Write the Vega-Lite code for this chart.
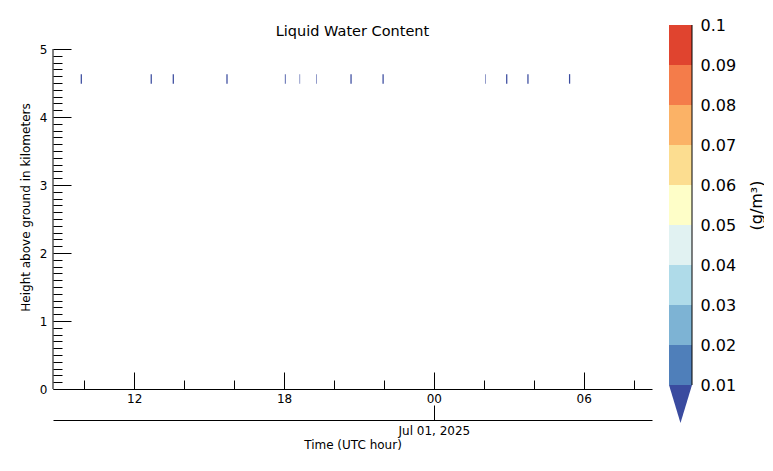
{
  "$schema": "https://vega.github.io/schema/vega-lite/v6.json",
  "padding": {"left": 19, "top": 17, "right": 0, "bottom": 0},
  "background": "white",
  "config": {
    "font": "DejaVu Sans",
    "view": {"stroke": null},
    "axis": {
      "grid": false,
      "domainColor": "black",
      "tickColor": "black",
      "labelColor": "black",
      "titleColor": "black",
      "labelFontSize": 12,
      "titleFontSize": 12,
      "titleFontWeight": "normal",
      "labelFlush": false,
      "labelOverlap": false
    },
    "title": {"color": "black", "fontWeight": "normal"}
  },
  "datasets": {
    "lwc": [
      {"start": "2025-06-30T09:51:30Z", "end": "2025-06-30T09:54:30Z", "base": 4.49, "top": 4.63, "lwc": 0.005},
      {"start": "2025-06-30T12:39:30Z", "end": "2025-06-30T12:42:30Z", "base": 4.49, "top": 4.63, "lwc": 0.005},
      {"start": "2025-06-30T13:32:30Z", "end": "2025-06-30T13:35:30Z", "base": 4.49, "top": 4.63, "lwc": 0.005},
      {"start": "2025-06-30T15:41:30Z", "end": "2025-06-30T15:44:30Z", "base": 4.49, "top": 4.63, "lwc": 0.005},
      {"start": "2025-06-30T18:02:00Z", "end": "2025-06-30T18:04:00Z", "base": 4.49, "top": 4.63, "lwc": 0.005},
      {"start": "2025-06-30T18:37:20Z", "end": "2025-06-30T18:38:40Z", "base": 4.49, "top": 4.63, "lwc": 0.005},
      {"start": "2025-06-30T19:17:20Z", "end": "2025-06-30T19:18:40Z", "base": 4.49, "top": 4.63, "lwc": 0.005},
      {"start": "2025-06-30T20:39:30Z", "end": "2025-06-30T20:42:30Z", "base": 4.49, "top": 4.63, "lwc": 0.005},
      {"start": "2025-06-30T21:56:30Z", "end": "2025-06-30T21:59:30Z", "base": 4.49, "top": 4.63, "lwc": 0.005},
      {"start": "2025-07-01T02:03:20Z", "end": "2025-07-01T02:04:40Z", "base": 4.49, "top": 4.63, "lwc": 0.005},
      {"start": "2025-07-01T02:53:30Z", "end": "2025-07-01T02:56:30Z", "base": 4.49, "top": 4.63, "lwc": 0.005},
      {"start": "2025-07-01T03:44:30Z", "end": "2025-07-01T03:47:30Z", "base": 4.49, "top": 4.63, "lwc": 0.005},
      {"start": "2025-07-01T05:24:30Z", "end": "2025-07-01T05:27:30Z", "base": 4.49, "top": 4.63, "lwc": 0.005}
    ],
    "bands": [
      {"lo": 0.01, "hi": 0.02},
      {"lo": 0.02, "hi": 0.03},
      {"lo": 0.03, "hi": 0.04},
      {"lo": 0.04, "hi": 0.05},
      {"lo": 0.05, "hi": 0.06},
      {"lo": 0.06, "hi": 0.07},
      {"lo": 0.07, "hi": 0.08},
      {"lo": 0.08, "hi": 0.09},
      {"lo": 0.09, "hi": 0.1}
    ],
    "under": [{"lo": 0.005}]
  },
  "spacing": 17,
  "resolve": {"scale": {"x": "independent", "y": "independent", "color": "independent"}},
  "hconcat": [
    {
      "width": 599,
      "height": 364,
      "title": {"text": "Liquid Water Content", "fontSize": 14.5, "offset": -14},
      "data": {"name": "lwc"},
      "resolve": {"axis": {"x": "independent", "y": "independent"}},
      "layer": [
        {
          "mark": {"type": "rect"},
          "encoding": {
            "x": {
              "field": "start",
              "type": "temporal",
              "scale": {
                "type": "utc",
                "domain": [
                  {"year": 2025, "month": 6, "date": 30, "hours": 8, "minutes": 45, "utc": true},
                  {"year": 2025, "month": 7, "date": 1, "hours": 8, "minutes": 44, "utc": true}
                ]
              },
              "axis": {
                "orient": "bottom",
                "title": null,
                "values": [
                  {"year": 2025, "month": 6, "date": 30, "hours": 12, "utc": true},
                  {"year": 2025, "month": 6, "date": 30, "hours": 18, "utc": true},
                  {"year": 2025, "month": 7, "date": 1, "hours": 0, "utc": true},
                  {"year": 2025, "month": 7, "date": 1, "hours": 6, "utc": true}
                ],
                "tickSize": -17,
                "format": "%H",
                "labelPadding": 21
              }
            },
            "x2": {"field": "end"},
            "y": {
              "field": "base",
              "type": "quantitative",
              "scale": {"domain": [0, 5.353], "nice": false},
              "axis": {
                "orient": "left",
                "domain": false,
                "title": "Height above ground in kilometers",
                "titlePadding": 7,
                "values": [0, 1, 2, 3, 4, 5],
                "format": "d",
                "tickSize": -18,
                "labelPadding": 24
              }
            },
            "y2": {"field": "top"},
            "color": {
              "field": "lwc",
              "type": "quantitative",
              "legend": null,
              "scale": {
                "type": "threshold",
                "domain": [0.01, 0.02, 0.03, 0.04, 0.05, 0.06, 0.07, 0.08, 0.09, 0.1],
                "range": ["#3a4b9f", "#4f7fba", "#7db3d4", "#afdbe9", "#e1f2f2", "#fefec8", "#fcdd90", "#fbb266", "#f47c4a", "#e0442f", "#a50026"]
              }
            }
          }
        },
        {
          "mark": {"type": "rect", "opacity": 0},
          "encoding": {
            "x": {
              "field": "start",
              "type": "temporal",
              "axis": {
                "orient": "bottom",
                "domain": false,
                "labels": false,
                "title": null,
                "values": [
                  {"year": 2025, "month": 6, "date": 30, "hours": 10, "utc": true},
                  {"year": 2025, "month": 6, "date": 30, "hours": 14, "utc": true},
                  {"year": 2025, "month": 6, "date": 30, "hours": 16, "utc": true},
                  {"year": 2025, "month": 6, "date": 30, "hours": 20, "utc": true},
                  {"year": 2025, "month": 6, "date": 30, "hours": 22, "utc": true},
                  {"year": 2025, "month": 7, "date": 1, "hours": 2, "utc": true},
                  {"year": 2025, "month": 7, "date": 1, "hours": 4, "utc": true},
                  {"year": 2025, "month": 7, "date": 1, "hours": 8, "utc": true}
                ],
                "tickSize": -9
              }
            },
            "x2": {"field": "end"},
            "y": {
              "field": "base",
              "type": "quantitative",
              "axis": {
                "orient": "left",
                "domain": false,
                "labels": false,
                "title": null,
                "values": [0.1, 0.2, 0.3, 0.4, 0.5, 0.6, 0.7, 0.8, 0.9, 1.1, 1.2, 1.3, 1.4, 1.5, 1.6, 1.7, 1.8, 1.9, 2.1, 2.2, 2.3, 2.4, 2.5, 2.6, 2.7, 2.8, 2.9, 3.1, 3.2, 3.3, 3.4, 3.5, 3.6, 3.7, 3.8, 3.9, 4.1, 4.2, 4.3, 4.4, 4.5, 4.6, 4.7, 4.8, 4.9],
                "tickSize": -9
              }
            },
            "y2": {"field": "top"}
          }
        },
        {
          "mark": {"type": "rect", "opacity": 0},
          "encoding": {
            "x": {
              "field": "start",
              "type": "temporal",
              "axis": {
                "orient": "bottom",
                "offset": 31,
                "values": [{"year": 2025, "month": 7, "date": 1, "utc": true}],
                "tickSize": -15,
                "format": "%b %d, %Y",
                "title": "Time (UTC hour)",
                "titlePadding": 3,
                "labelPadding": 20
              }
            },
            "x2": {"field": "end"},
            "y": {"field": "base", "type": "quantitative", "axis": null},
            "y2": {"field": "top"}
          }
        },
        {
          "data": {"name": "under"},
          "mark": {"type": "rule", "color": "black", "strokeWidth": 1},
          "encoding": {
            "x": {"datum": {"year": 2025, "month": 6, "date": 30, "hours": 8, "minutes": 45, "utc": true}, "type": "temporal", "axis": null},
            "y": {"datum": 0, "type": "quantitative", "axis": null},
            "y2": {"datum": 5}
          }
        }
      ]
    },
    {
      "width": 23,
      "height": 398,
      "layer": [
        {
          "data": {"name": "bands"},
          "mark": {"type": "rect"},
          "encoding": {
            "x": {"datum": 0, "type": "quantitative", "scale": {"domain": [0, 1], "nice": false}, "axis": null},
            "x2": {"datum": 1},
            "y": {
              "field": "lo",
              "type": "quantitative",
              "scale": {"domain": [0.0005, 0.1], "nice": false, "zero": false},
              "axis": {
                "orient": "right",
                "values": [0.01, 0.02, 0.03, 0.04, 0.05, 0.06, 0.07, 0.08, 0.09, 0.1],
                "format": ".2~f",
                "ticks": false,
                "domain": false,
                "labelFontSize": 16,
                "labelPadding": 8,
                "title": "(g/m³)",
                "titleFontSize": 16,
                "titleAngle": 270,
                "titleBaseline": "top",
                "titleAlign": "center",
                "titleX": 56,
                "titleY": 180
              }
            },
            "y2": {"field": "hi"},
            "color": {
              "field": "lo",
              "type": "quantitative",
              "legend": null,
              "scale": {
                "type": "threshold",
                "domain": [0.01, 0.02, 0.03, 0.04, 0.05, 0.06, 0.07, 0.08, 0.09, 0.1],
                "range": ["#3a4b9f", "#4f7fba", "#7db3d4", "#afdbe9", "#e1f2f2", "#fefec8", "#fcdd90", "#fbb266", "#f47c4a", "#e0442f", "#a50026"]
              }
            }
          }
        },
        {
          "data": {"name": "under"},
          "mark": {"type": "point", "shape": "M-0.605,-1L0.605,-1L0,1Z", "size": 1444, "filled": true, "opacity": 1, "strokeWidth": 0},
          "encoding": {
            "x": {"datum": 0.5, "type": "quantitative"},
            "y": {"datum": 0.00525, "type": "quantitative"},
            "color": {
              "field": "lo",
              "type": "quantitative",
              "legend": null,
              "scale": {
                "type": "threshold",
                "domain": [0.01, 0.02, 0.03, 0.04, 0.05, 0.06, 0.07, 0.08, 0.09, 0.1],
                "range": ["#3a4b9f", "#4f7fba", "#7db3d4", "#afdbe9", "#e1f2f2", "#fefec8", "#fcdd90", "#fbb266", "#f47c4a", "#e0442f", "#a50026"]
              }
            }
          }
        },
        {
          "data": {"name": "under"},
          "mark": {"type": "rule", "color": "black", "strokeWidth": 1},
          "encoding": {
            "x": {"datum": 1, "type": "quantitative"},
            "y": {"datum": 0.01, "type": "quantitative"},
            "y2": {"datum": 0.1}
          }
        }
      ]
    }
  ]
}
